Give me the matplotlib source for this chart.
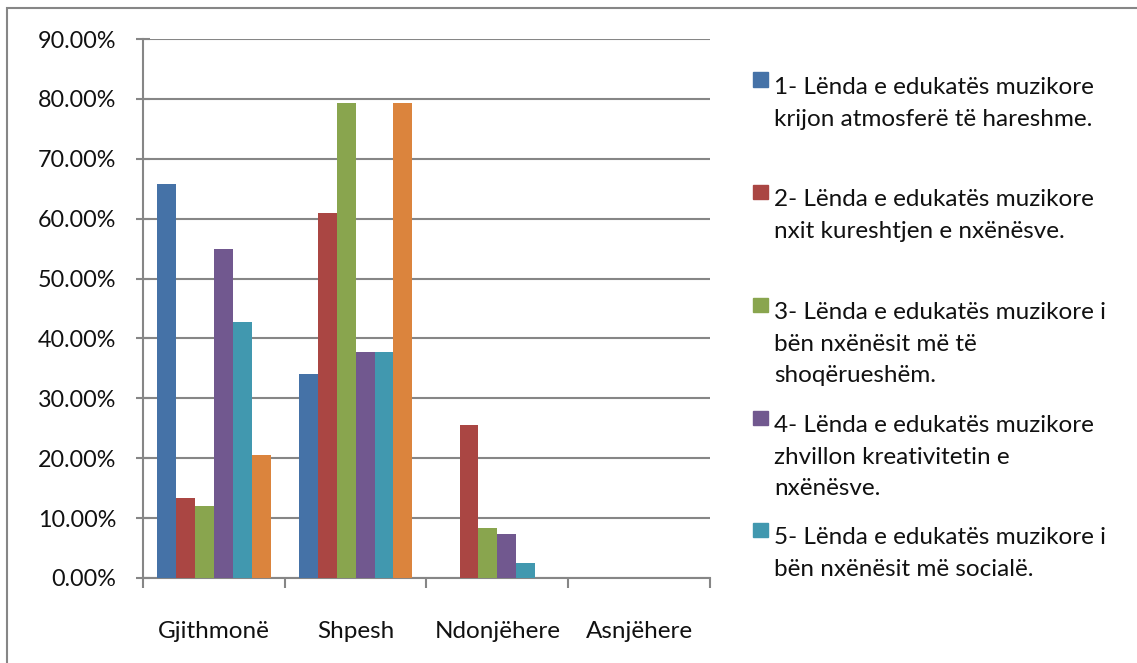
import numpy as np
import matplotlib.pyplot as plt
from matplotlib.patches import Rectangle

categories = ['Gjithmonë', 'Shpesh', 'Ndonjëhere', 'Asnjëhere']
s1 = [65.8, 34.0, 0.0, 0.0]
s2 = [13.3, 60.9, 25.6, 0.0]
s3 = [12.0, 79.3, 8.4, 0.0]
s4 = [54.9, 37.7, 7.3, 0.0]
s5 = [42.7, 37.7, 2.5, 0.0]
s6 = [20.6, 79.3, 0.0, 0.0]
series = [s1, s2, s3, s4, s5, s6]
labels = ['1- Lënda e edukatës muzikore\nkrijon atmosferë të hareshme.',
          '2- Lënda e edukatës muzikore\nnxit kureshtjen e nxënësve.',
          '3- Lënda e edukatës muzikore i\nbën nxënësit më të\nshoqërueshëm.',
          '4- Lënda e edukatës muzikore\nzhvillon kreativitetin e\nnxënësve.',
          '5- Lënda e edukatës muzikore i\nbën nxënësit më socialë.']
colors = ['#4572A7', '#AA4643', '#89A54E', '#71588F', '#4198AF', '#DB843D']
yticks = np.arange(0, 91, 10)

plt.rcParams['font.family'] = ['Lato', 'DejaVu Sans']
W, H = 1137, 663
fig = plt.figure(figsize=(W / 100, H / 100), dpi=100)
grey = '#868686'

# outer chart frame (only left and top visible)
fig.add_artist(Rectangle((7 / W, -0.1), 2, 1.1 - 8 / H, transform=fig.transFigure,
                         fill=False, edgecolor=grey, lw=1.5))

ax = fig.add_axes([143 / W, (H - 578) / H, (710 - 143) / W, (578 - 39) / H])
x = np.arange(len(categories))
n = len(series)
bw = 0.8 / n
for i, vals in enumerate(series):
    ax.bar(x - 0.4 + bw * (i + 0.5), vals, width=bw, color=colors[i], zorder=3)

ax.set_xlim(-0.5, len(categories) - 0.5)
ax.set_ylim(0, 90)
ax.set_yticks(yticks)
ax.set_yticklabels(['%.2f%%' % v for v in yticks])
ax.set_xticks(x)
ax.set_xticklabels(categories)
ax.set_xticks(np.arange(-0.5, len(categories)), minor=True)
ax.tick_params(axis='x', which='major', length=0, pad=31, labelsize=17.5)
ax.tick_params(axis='x', which='minor', length=7, color=grey, width=1.5)
ax.tick_params(axis='y', length=10, direction='inout', color=grey, width=1.5,
               labelsize=16.8, pad=14, labelcolor='#111111')
ax.tick_params(axis='x', labelcolor='#111111')
ax.grid(axis='y', color=grey, lw=1.5, zorder=0)
for s in ['top', 'right']:
    ax.spines[s].set_visible(False)
for s in ['left', 'bottom']:
    ax.spines[s].set_color(grey)
    ax.spines[s].set_linewidth(1.5)

# legend (only the first five series have entries)
centers = [85, 197, 310, 423, 535]
for i, lab in enumerate(labels):
    c = centers[i]
    fig.add_artist(Rectangle((753 / W, (H - c + 12.5 - 14) / H), 15 / W, 14 / H,
                             transform=fig.transFigure, color=colors[i]))
    fig.text(774 / W, (H - c + 8) / H, lab, fontsize=17.5, va='top', ha='left',
             linespacing=1.62, color='#111111')

fig.savefig('out.png', dpi=100)
